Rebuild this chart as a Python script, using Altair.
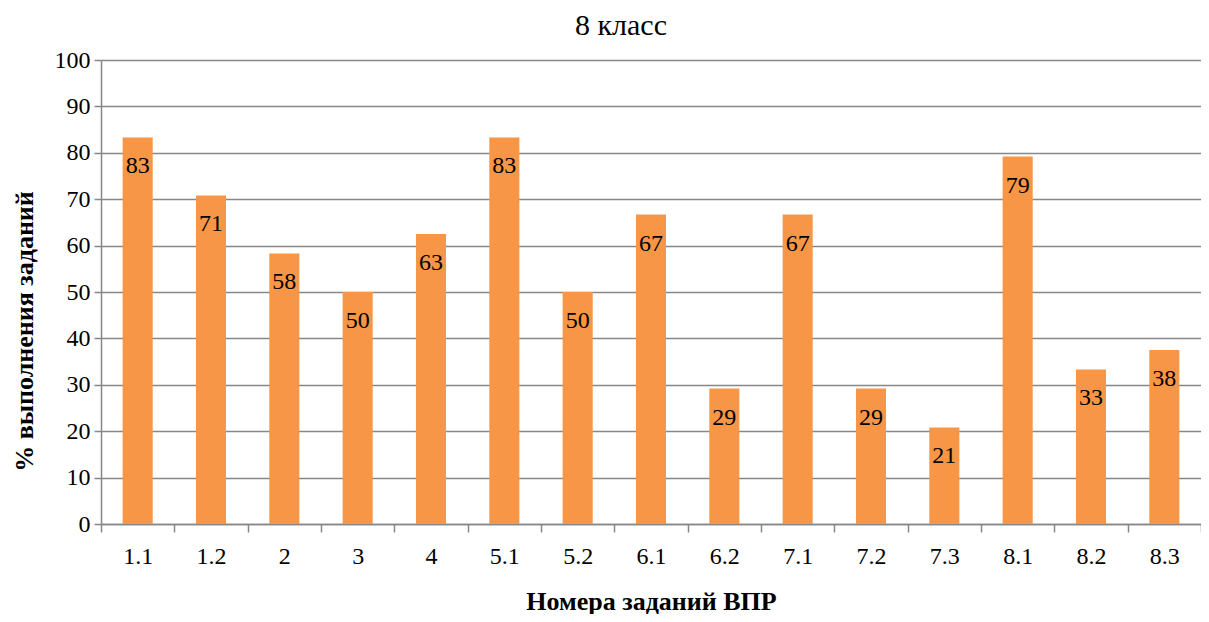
import altair as alt
import pandas as pd

tasks = ["1.1", "1.2", "2", "3", "4", "5.1", "5.2", "6.1", "6.2", "7.1", "7.2", "7.3", "8.1", "8.2", "8.3"]
values = [83.3, 70.8, 58.3, 50.0, 62.5, 83.3, 50.0, 66.7, 29.2, 66.7, 29.2, 20.8, 79.2, 33.3, 37.5]
y_ticks = [0, 10, 20, 30, 40, 50, 60, 70, 80, 90, 100]

df = pd.DataFrame({"task": tasks, "value": values})

FONT = "Liberation Serif"
GREY = "#878787"

PLOT_W = 1100
PLOT_H = 464

x_enc = alt.X(
    "task:N",
    sort=tasks,
    scale=alt.Scale(paddingInner=0, paddingOuter=0),
    axis=alt.Axis(
        title="Номера заданий ВПР",
        labelAngle=0,
        labelFont=FONT,
        labelFontSize=24,
        labelColor="black",
        labelPadding=12,
        tickBand="extent",
        tickSize=8,
        tickColor=GREY,
        tickWidth=1.5,
        domainColor=GREY,
        domainWidth=1.5,
        grid=False,
        titleFont=FONT,
        titleFontSize=26,
        titleFontWeight="bold",
        titleColor="black",
        titleX=550,
        titleY=77,
        titleBaseline="middle",
        titleAlign="center",
    ),
)

y_enc = alt.Y(
    "value:Q",
    scale=alt.Scale(domain=[0, 100], nice=False),
    axis=alt.Axis(
        title="% выполнения заданий",
        values=y_ticks,
        labelFont=FONT,
        labelFontSize=24,
        labelColor="black",
        labelPadding=4,
        tickSize=7,
        tickColor=GREY,
        tickWidth=1.5,
        domainColor=GREY,
        domainWidth=1.5,
        gridColor=GREY,
        gridWidth=1.5,
        titleFont=FONT,
        titleFontSize=26,
        titleFontWeight="bold",
        titleColor="black",
        titleAngle=270,
        titleX=-77,
        titleY=271,
        titleBaseline="middle",
        titleAlign="center",
    ),
)

bars = alt.Chart(df).mark_bar(color="#F79646", width=alt.RelativeBandSize(0.41)).encode(x=x_enc, y=y_enc)

labels = alt.Chart(df).mark_text(
    font=FONT, fontSize=24, color="black", baseline="middle", align="center", dy=29
).encode(
    x=alt.X("task:N", sort=tasks),
    y=alt.Y("value:Q"),
    text=alt.Text("value:Q", format=".0f"),
)

chart = (
    alt.layer(bars, labels)
    .properties(
        width=PLOT_W,
        height=PLOT_H,
        title=alt.TitleParams(
            "8 класс",
            font=FONT,
            fontSize=30,
            fontWeight="normal",
            color="black",
            anchor="middle",
            dx=-30,
            offset=7,
        ),
        autosize=alt.AutoSizeParams(type="none"),
        padding={"left": 93, "top": 52, "right": 0, "bottom": 90},
    )
    .configure_view(stroke=None)
    .configure(background="white")
)

chart.save("out.html", embed_options={"renderer": "svg", "actions": False})
